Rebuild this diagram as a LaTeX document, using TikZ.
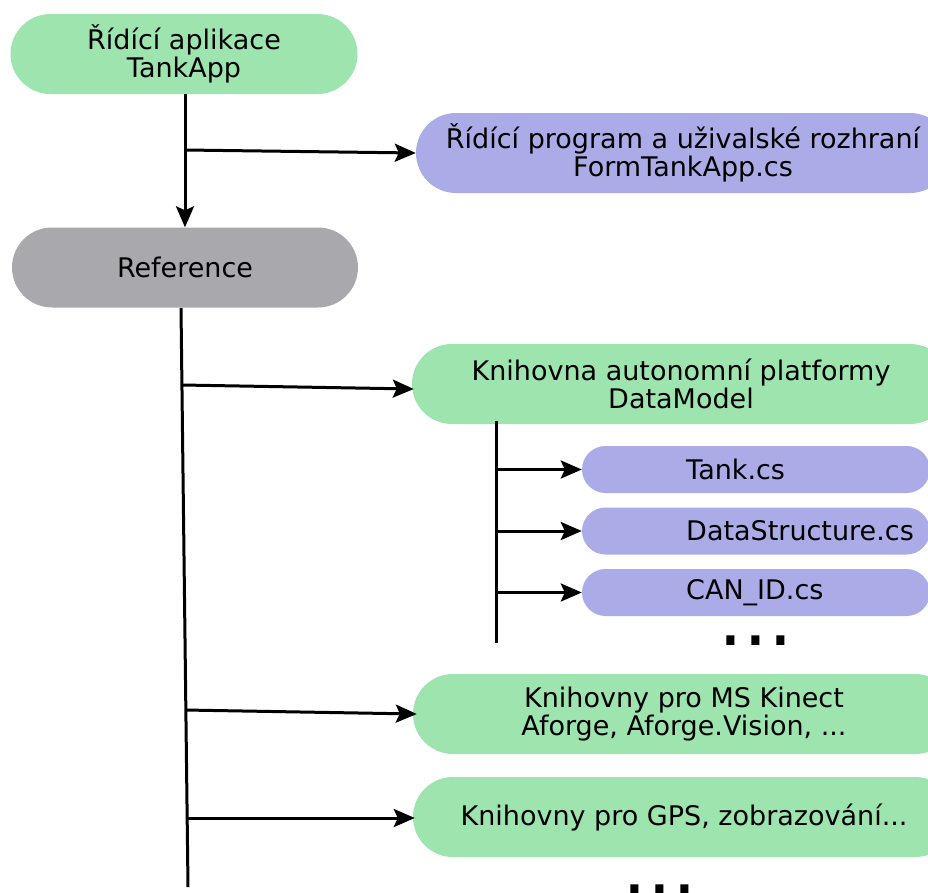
\documentclass[tikz,border=0pt]{standalone}
\usepackage{fontspec}
\setmainfont{DejaVu Sans}
\usetikzlibrary{arrows.meta,calc}
\definecolor{appgreen}{HTML}{9DE4AF}
\definecolor{filepurple}{HTML}{ABABE8}
\definecolor{refgray}{HTML}{A9A8AD}
\begin{document}
\begin{tikzpicture}[x=1pt,y=-1pt,
  pill/.style={rectangle,rounded corners=#1,inner sep=0pt,align=center,
    font=\fontsize{27}{28.5}\selectfont},
  bigpill/.style={pill=40pt,minimum height=80pt},
  smallpill/.style={pill=23.5pt,minimum height=47pt,minimum width=348pt},
  filename/.style={font=\fontsize{27}{28.5}\selectfont,anchor=west,inner sep=0pt},
  link/.style={line width=3pt,-{Stealth[length=21pt,width=18pt,inset=4pt]}},
  trunk/.style={line width=3pt},
  more/.style={font=\fontsize{78}{78}\selectfont,inner sep=0pt,anchor=base}]
\useasboundingbox (0,0) rectangle (928,892);
\clip (0,0) rectangle (928,892);

% main application and its references
\node[bigpill,fill=appgreen,minimum width=347pt] (app) at (184,54) {Řídící aplikace\\TankApp};
\node[bigpill,fill=refgray,minimum width=346pt] (ref) at (185,267.5) {Reference};
\node[bigpill,fill=filepurple,minimum width=534pt] (prog) at (683,153) {Řídící program a uživalské rozhraní\\FormTankApp.cs};

\draw[link] (ref.north |- app.south) -- (ref.north);
\coordinate (b0) at (185,150);
\draw[link] (b0) -- (prog.west);

% libraries
\node[bigpill,fill=appgreen,minimum width=538pt] (dm) at (681,384) {Knihovna autonomní platformy\\DataModel};
\node[bigpill,fill=appgreen,minimum width=542pt] (kin) at (684,714) {Knihovny pro MS Kinect\\Aforge, Aforge.Vision, ...};
\node[bigpill,fill=appgreen,minimum width=542pt] (gps) at (684,817) {Knihovny pro GPS, zobrazování...};

\coordinate (t0) at (181,308);
\coordinate (t1) at (188,887);
\draw[trunk] (t0) -- (t1);
\coordinate (b1) at (182,385);
\coordinate (b2) at (185.3,710);
\coordinate (b3) at (187.2,818);
\draw[link] (b1) -- ($(dm.west)+(2,5)$);
\draw[link] (b2) -- ($(kin.west)+(4,0)$);
\draw[link] (b3) -- ($(gps.west)+(2,1)$);
\node[more] (moreref) at (660,894) {...};

% DataModel source files
\node[smallpill,fill=filepurple] (tank) at (756,469.5) {};
\node[smallpill,fill=filepurple] (ds) at (756,531) {};
\node[smallpill,fill=filepurple] (can) at (756,592.5) {};
\node[filename] (tanktxt) at (686,469.5) {Tank.cs};
\node[filename] (dstxt) at (686,531) {DataStructure.cs};
\node[filename] (cantxt) at (686,592.5) {CAN\_ID.cs};

\coordinate (s0) at (496,421);
\coordinate (s1) at (496,643);
\draw[trunk] (s0) -- (s1);
\draw[link] (s0 |- tank.west) -- (tank.west);
\draw[link] (s0 |- ds.west) -- (ds.west);
\draw[link] (s0 |- can.west) -- (can.west);
\node[more] (moredm) at (756,645) {...};
\end{tikzpicture}
\end{document}
